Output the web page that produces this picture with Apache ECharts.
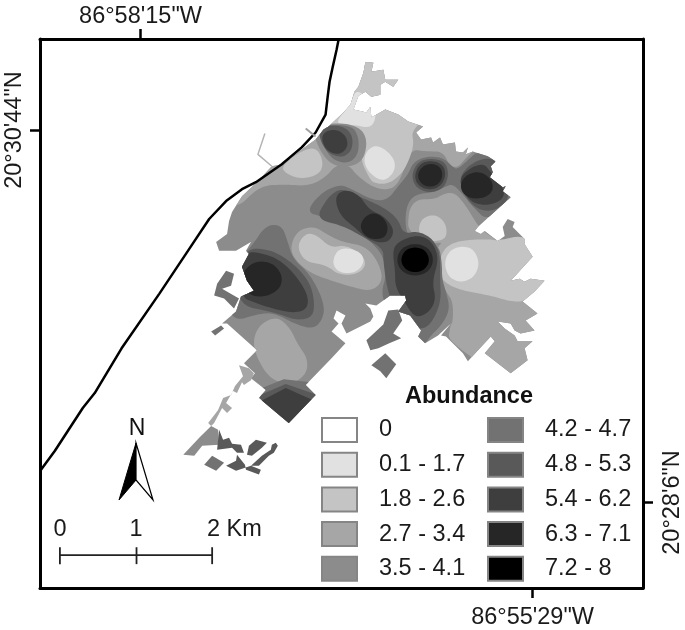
<!DOCTYPE html>
<html><head><meta charset="utf-8">
<style>html,body{margin:0;padding:0;background:#fff}#c{width:685px;height:630px}</style>
<script src="https://cdn.jsdelivr.net/npm/echarts@6/dist/echarts.min.js"></script>
</head><body><div id="c"></div>
<script>
const classLabels=['0','0.1 - 1.7','1.8 - 2.6','2.7 - 3.4','3.5 - 4.1','4.2 - 4.7','4.8 - 5.3','5.4 - 6.2','6.3 - 7.1','7.2 - 8'];
const classColors=['#ffffff','#e1e1e1','#c4c4c4','#a6a6a6','#8c8c8c','#727272','#595959','#3e3e3e','#262626','#000000'];
const lonTicks=[141,535], lonLabels=['86°58\'15"W','86°55\'29"W'];
const latTicks=[130.5,505], latLabels=['20°30\'44"N','20°28\'6"N'];
const coast=[[340,40],[338,50],[334,68],[331,82],[329,98],[327,115],[317,133],[303,148],[283,165],[257,183],[243,190],[227,202],[210,220],[190,250],[160,295],[122,350],[95,395],[83,410],[55,453],[41,472]];
const roadA=[[266,134],[259,155],[273,167]];
const roadB=[[307,129],[317,137]];
const scaleBar=[[60,558],[213,558]], scaleTick0=[[60,550],[60,567]], scaleTick1=[[137,550],[137,567]], scaleTick2=[[213,550],[213,567]];

const footprint=[[228,235],[230,222],[233,213],[243,197],[258,183],[273,167],[285,165],[303,150],[317,140],[325,130],[330,127],[345,113],[352,105],[356,92],[360,87],[365,73],[367,62],[375,63],[373,72],[385,70],[387,80],[400,80],[395,87],[387,82],[382,85],[382,95],[373,97],[367,92],[360,96],[355,110],[368,113],[372,107],[373,118],[387,110],[400,115],[410,122],[425,127],[418,133],[423,140],[433,138],[435,143],[442,138],[445,145],[457,143],[458,152],[465,153],[470,148],[468,155],[475,152],[490,157],[498,162],[493,167],[495,173],[492,178],[505,188],[508,187],[505,192],[513,198],[480,228],[477,232],[483,235],[487,232],[500,242],[507,237],[505,228],[510,220],[517,223],[515,228],[527,240],[527,245],[535,258],[513,282],[522,280],[527,283],[533,280],[547,282],[537,293],[525,303],[540,315],[528,322],[537,332],[523,335],[517,332],[513,325],[500,323],[507,330],[517,337],[520,343],[535,343],[527,350],[530,362],[513,375],[487,355],[497,343],[493,338],[470,363],[465,355],[448,338],[443,337],[453,325],[440,337],[427,345],[420,338],[423,332],[412,317],[400,313],[408,302],[407,297],[392,297],[378,307],[367,305],[372,310],[375,318],[372,323],[348,335],[343,325],[347,317],[338,312],[335,320],[340,325],[333,333],[347,345],[333,360],[307,387],[317,397],[290,425],[260,400],[267,392],[252,380],[256,375],[245,365],[258,352],[228,325],[223,325],[237,313],[242,298],[255,292],[248,282],[243,268],[250,255],[247,252],[252,243],[237,252],[220,252],[217,243]];

const islandPeninsula=[[218,285],[227,272],[235,275],[232,287],[223,290],[240,300],[235,310],[225,300],[215,297]];
const islandJag=[[212,333],[222,327],[225,330],[216,337]];
const islandStrip=[[400,311],[404,322],[395,335],[403,340],[391,345],[380,350],[372,352],[368,342],[385,326],[390,312]];
const islandSouth=[[373,367],[387,355],[398,366],[388,380],[382,373]];
const tendril=[[240,367],[250,370],[255,375],[252,382],[245,387],[243,384],[238,395],[234,393],[227,405],[233,410],[228,415],[223,410],[215,425],[212,428],[209,425],[219,412],[224,400],[232,397],[236,388],[244,378]];
const southA=[[212,428],[219,432],[220,447],[203,448],[195,458],[184,457],[200,440]];
const southB=[[220,432],[224,442],[230,440],[233,446],[242,447],[245,455],[238,455],[233,450],[218,452]];
const southC=[[213,458],[225,465],[217,473],[205,467]];
const southD=[[238,457],[246,467],[247,472],[260,477],[262,472],[252,468],[237,473],[227,468],[237,463]];
const southE=[[257,442],[268,445],[263,450],[253,458],[248,457],[250,448]];
const southF=[[277,445],[279,448],[275,455],[270,458],[260,468],[252,468],[263,458],[272,452],[273,447]];

const a6North=[[238,210],[260,187],[285,185],[310,187],[327,178],[338,165],[352,167],[357,175],[377,190],[397,190],[407,168],[413,150],[427,152],[445,152],[452,167],[460,168],[467,160],[475,152],[520,120],[360,30],[300,90],[220,200]];
const c4North=[[325,128],[345,124],[364,130],[366,140],[362,160],[370,177],[375,184],[390,185],[403,175],[410,163],[416,145],[413,130],[440,110],[420,40],[340,40],[320,110]];
const e1Spit=[[335,125],[352,105],[358,88],[375,105],[378,118],[372,129],[355,125]];
const e1Blob=[[380,145],[396,158],[397,172],[385,183],[371,174],[365,162],[369,150]];
const c4West=[[318,148],[325,163],[321,175],[303,180],[288,175],[282,167],[303,151]];
const knot8c=[[316,126],[345,123],[363,129],[369,142],[365,161],[351,168],[338,167],[327,160],[316,140]];
const knot72=[[318,126],[353,125],[361,139],[359,158],[346,165],[329,157]];
const knot59=[[318,128],[341,125],[354,134],[354,151],[343,159],[326,152]];
const knot3e=[[322,135],[335,129],[347,135],[350,147],[341,156],[327,151]];

const a6SE=[[410,220],[412,208],[420,200],[437,200],[445,195],[455,193],[463,200],[472,213],[482,230],[500,242],[560,260],[540,400],[450,345],[452,328],[455,323],[455,303],[448,293],[440,277],[438,250],[445,243],[433,245],[420,240],[410,230]];
const c4SE=[[500,242],[490,240],[457,242],[443,253],[440,277],[453,288],[470,293],[493,297],[513,303],[530,303],[560,270],[530,235]];
const e1SE=[[446,265],[451,252],[463,247],[476,250],[482,265],[476,279],[463,284],[451,279]];
const c4East=[[420,230],[424,219],[437,215],[448,224],[449,239],[437,243],[424,241]];
const a6Centre=[[291,250],[298,232],[315,227],[328,235],[343,243],[367,247],[380,263],[385,282],[373,293],[352,288],[333,282],[313,275],[298,263]];
const c4Centre=[[298,247],[307,234],[318,236],[332,249],[347,246],[364,256],[368,267],[358,276],[340,276],[327,266],[306,263]];
const e1Centre=[[334,262],[339,251],[350,249],[363,254],[366,263],[359,273],[347,275],[337,271]];
const a6SW=[[254,340],[262,325],[278,318],[291,329],[299,346],[309,360],[308,376],[292,387],[271,381],[257,358]];

const west72=[[253,247],[267,226],[283,226],[289,243],[294,260],[311,275],[324,300],[326,317],[316,331],[297,326],[275,314],[257,316],[235,323],[225,300],[240,260]];
const west59=[[243,250],[271,250],[294,264],[311,283],[316,303],[314,319],[297,322],[277,314],[235,306]];
const west3e=[[243,252],[268,255],[288,266],[308,292],[310,309],[297,315],[273,310],[256,304],[241,298]];
const west26=[[244,272],[257,262],[274,264],[284,277],[281,291],[265,299],[249,296],[244,285]];

const centre72=[[307,213],[323,193],[342,185],[353,190],[377,202],[390,200],[400,187],[410,175],[415,163],[428,157],[445,158],[455,168],[460,170],[473,158],[480,152],[498,160],[520,198],[490,222],[477,210],[463,193],[455,185],[448,187],[437,193],[418,195],[410,203],[407,217],[408,232],[413,243],[425,245],[441,246],[444,265],[444,280],[448,293],[452,310],[445,325],[433,337],[425,348],[400,345],[388,310],[383,293],[388,277],[385,257],[372,242],[360,235],[343,226],[325,218]];
const centre59=[[317,220],[328,200],[337,192],[345,190],[360,197],[385,208],[400,220],[405,235],[420,232],[435,240],[442,255],[442,280],[443,303],[435,322],[427,330],[417,330],[402,318],[392,300],[388,285],[385,262],[385,250],[365,238],[345,227]];
const centre3e=[[336,197],[347,190],[361,196],[371,211],[386,217],[397,232],[389,245],[370,241],[357,229],[341,216]];
const centre26=[[361,226],[369,215],[380,214],[390,225],[388,238],[377,241],[366,237]];
const ne59=[[460,182],[470,166],[488,158],[500,162],[515,198],[494,214],[473,207]];
const ne3e=[[461,183],[467,172],[485,163],[494,174],[507,190],[505,201],[488,207],[471,202]];
const ne26=[[462,185],[469,175],[482,172],[493,179],[496,190],[489,198],[475,200],[465,195]];
const mid59=[[413,176],[420,162],[433,159],[447,162],[451,175],[446,189],[432,194],[418,189]];
const mid3e=[[416,176],[422,164],[433,161],[445,165],[448,176],[443,187],[432,191],[420,187]];
const mid26=[[419,176],[424,167],[433,164],[442,167],[445,176],[441,185],[432,188],[423,185]];
const col3e=[[394,250],[403,241],[420,236],[434,242],[441,260],[434,283],[438,301],[431,314],[417,320],[406,303],[397,288],[397,273]];
const col26=[[398,261],[403,249],[417,244],[431,249],[436,261],[431,273],[417,278],[403,273]];
const colBlack=[[402,261],[407,251],[417,248],[427,251],[432,261],[427,271],[417,274],[407,271]];
const wedge72=[[258,392],[285,381],[312,384],[324,397],[290,432]];
const wedge59=[[259,398],[287,386],[319,397],[290,432]];
const wedge3e=[[262,403],[287,390],[314,402],[290,432]];

// paint order: [class index, ring, curved contour?, clip to main footprint?]
const layers=[
[4,footprint,0,0],[5,islandPeninsula,0,0],[5,islandJag,0,0],[5,islandStrip,0,0],[5,islandSouth,0,0],
[3,tendril,0,0],[4,southA,0,0],[6,southB,0,0],[5,southC,0,0],[6,southD,0,0],[6,southE,0,0],[6,southF,0,0],
[3,a6North,1,1],[2,c4North,1,1],[1,e1Spit,1,1],[1,e1Blob,1,1],[2,c4West,1,1],
[3,a6SE,1,1],[2,c4SE,1,1],[1,e1SE,1,1],[2,c4East,1,1],
[3,a6Centre,1,1],[2,c4Centre,1,1],[1,e1Centre,1,1],[3,a6SW,1,1],
[5,west72,1,1],[6,west59,1,1],[7,west3e,1,1],[8,west26,1,1],
[5,centre72,1,1],[6,centre59,1,1],[7,centre3e,1,1],[8,centre26,1,1],
[6,ne59,1,1],[7,ne3e,1,1],[8,ne26,1,1],[6,mid59,1,1],[7,mid3e,1,1],[8,mid26,1,1],
[7,col3e,1,1],[8,col26,1,1],[9,colBlack,1,1],
[4,knot8c,1,1],[5,knot72,1,1],[6,knot59,1,1],[7,knot3e,1,1],
[5,wedge72,0,1],[6,wedge59,0,1],[7,wedge3e,0,1]
];

const FONT='"Liberation Sans",Arial,sans-serif';
const chart=echarts.init(document.getElementById('c'));
// rounds the corners of a traced contour at draw time (corner cutting in pixel space)
function roundCorners(pts,n){
  let out=pts;
  for(let k=0;k<n;k++){
    const next=[];
    for(let i=0;i<out.length;i++){
      const a=out[i],b=out[(i+1)%out.length];
      next.push([a[0]*.75+b[0]*.25,a[1]*.75+b[1]*.25],[a[0]*.25+b[0]*.75,a[1]*.25+b[1]*.75]);
    }
    out=next;
  }
  return out;
}
function bandSeries(ci){
  return {type:'custom',name:classLabels[ci],coordinateSystem:'cartesian2d',z:2,silent:true,
    itemStyle:{color:classColors[ci]},
    data:layers.map((l,i)=>[i,l[0]]).filter(d=>d[1]===ci),
    renderItem(p,api){
      const i=api.value(0), l=layers[i];
      let pts=l[1].map(c=>api.coord(c));
      if(l[2]) pts=roundCorners(pts,3);
      const el={type:'polygon',z2:i+1,shape:{points:pts},style:{fill:classColors[ci],stroke:null}};
      if(l[3]) el.clipPath={type:'polygon',shape:{points:footprint.map(c=>api.coord(c))}};
      return el;
    }};
}
function lineSeries(name,data,color,width){
  return {type:'line',name,data,symbol:'none',z:5,silent:true,lineStyle:{color,width},animation:false};
}
const legendItem=ci=>({name:classLabels[ci],icon:'rect',itemStyle:{color:classColors[ci],borderColor:'#858585',borderWidth:2}});
const legendBase={orient:'vertical',padding:0,selectedMode:false,itemWidth:35,itemHeight:24,itemGap:8.7,
  textStyle:{fontFamily:FONT,fontSize:23.5,color:'#1a1a1a',padding:[0,0,0,17]}};
const axisCommon={type:'value',splitLine:{show:false},
  axisLine:{show:true,onZero:false,lineStyle:{color:'#000',width:3}},
  axisTick:{show:true,length:10,lineStyle:{color:'#000',width:2.5}}};
function xAx(pos,i){return Object.assign({},axisCommon,{position:pos,min:40,max:646,
  axisTick:Object.assign({},axisCommon.axisTick,{customValues:[lonTicks[i]]}),
  axisLabel:{customValues:[lonTicks[i]],formatter:()=>lonLabels[i],margin:pos==='top'?10:18,fontFamily:FONT,fontSize:23.5,color:'#1a1a1a'}});}
function yAx(pos,i){return Object.assign({},axisCommon,{position:pos,min:39,max:591,inverse:true,
  axisTick:Object.assign({},axisCommon.axisTick,{customValues:[latTicks[i]]}),
  axisLabel:{customValues:[latTicks[i]],formatter:()=>latLabels[i],rotate:90,margin:pos==='left'?13:18,fontFamily:FONT,fontSize:23.5,color:'#1a1a1a'}});}
chart.setOption({
  animation:false,backgroundColor:'#fff',
  grid:{left:40,top:39,width:606,height:552,containLabel:false},
  xAxis:[xAx('top',0),xAx('bottom',1)],
  yAxis:[yAx('left',0),yAx('right',1)],
  title:{text:'Abundance',left:405,top:385,textStyle:{fontFamily:FONT,fontSize:23.5,fontWeight:'bold',color:'#111'},padding:0},
  legend:[
    Object.assign({},legendBase,{left:321,top:417,data:[0,1,2,3,4].map(legendItem)}),
    Object.assign({},legendBase,{left:487,top:417,data:[5,6,7,8,9].map(legendItem)})
  ],
  series:[...classLabels.map((_,i)=>bandSeries(i)),
    lineSeries('coast',coast,'#000',2.5),lineSeries('roadA',roadA,'#b4b4b4',1.5),lineSeries('roadB',roadB,'#a0a0a0',2),
    lineSeries('bar',scaleBar,'#222',1.8),lineSeries('t0',scaleTick0,'#222',1.8),lineSeries('t1',scaleTick1,'#222',1.8),lineSeries('t2',scaleTick2,'#222',1.8)],
  graphic:[
    {type:'text',x:137,y:429,style:{text:'N',font:'23px '+FONT,fill:'#111',align:'center',verticalAlign:'middle'}},
    {type:'polygon',shape:{points:[[136,443],[119,500],[136,480]]},style:{fill:'#000',stroke:'#000',lineWidth:1}},
    {type:'polygon',shape:{points:[[136,443],[153,500],[136,480]]},style:{fill:'#fff',stroke:'#000',lineWidth:1.2}},
    {type:'text',x:60,y:530,style:{text:'0',font:'23.5px '+FONT,fill:'#1a1a1a',align:'center',verticalAlign:'middle'}},
    {type:'text',x:136,y:530,style:{text:'1',font:'23.5px '+FONT,fill:'#1a1a1a',align:'center',verticalAlign:'middle'}},
    {type:'text',x:207,y:530,style:{text:'2 Km',font:'23.5px '+FONT,fill:'#1a1a1a',align:'left',verticalAlign:'middle'}}
  ]
});
</script></body></html>
